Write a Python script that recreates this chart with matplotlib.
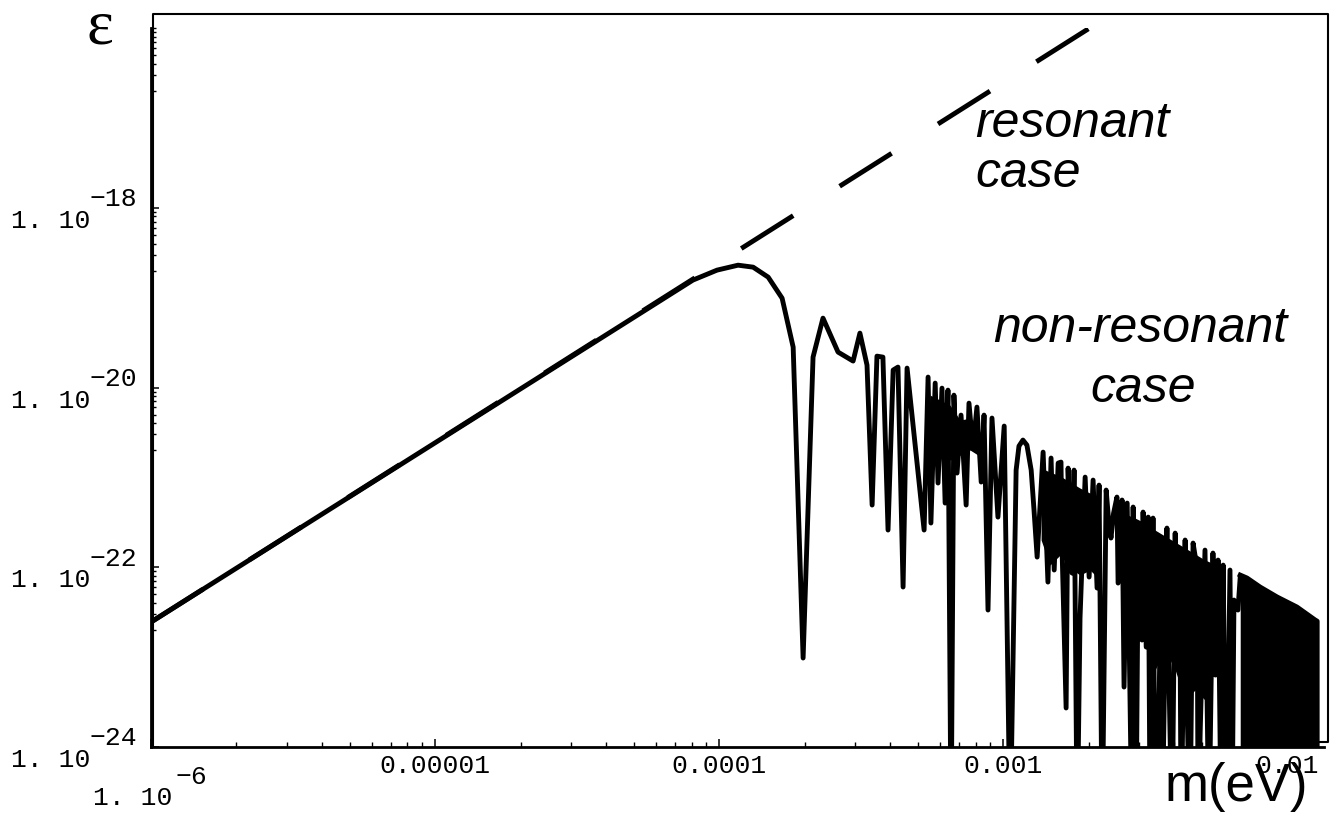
import numpy as np
import matplotlib
matplotlib.use("Agg")
import matplotlib.pyplot as plt
from matplotlib.ticker import FixedLocator, NullFormatter, LogLocator
from matplotlib.lines import Line2D

# ---------------- data (log10 values) ----------------
resonant_log10_m = [-6.0, -2.5]
resonant_log10_eps = [-22.61, -15.61]

nonres_log10_m = [
    -6.000, -4.092, -4.007, -3.933, -3.880, -3.827, -3.778, -3.739, -3.704, -3.669,
    -3.634, -3.581, -3.528, -3.504, -3.479, -3.461, -3.444, -3.423, -3.405, -3.387,
    -3.370, -3.352, -3.338, -3.278, -3.264, -3.254, -3.239, -3.229, -3.215, -3.204,
    -3.194, -3.183, -3.173, -3.162, -3.148, -3.130, -3.120, -3.106, -3.092, -3.077,
    -3.067, -3.053, -3.039, -3.018, -2.996, -2.975, -2.954, -2.944, -2.930, -2.916,
    -2.901, -2.891, -2.880, -2.859, -2.842, -2.831, -2.820, -2.806, -2.796, -2.792,
    -2.778, -2.771, -2.757, -2.750, -2.739, -2.729, -2.711, -2.697, -2.683, -2.669,
    -2.662, -2.651, -2.637, -2.629, -2.620, -2.611, -2.599, -2.595, -2.581, -2.574,
    -2.563, -2.546, -2.542, -2.532, -2.525, -2.511, -2.507, -2.496, -2.489, -2.482,
    -2.472, -2.468, -2.458, -2.444, -2.440, -2.423, -2.419, -2.405, -2.394, -2.387,
    -2.377, -2.373, -2.359, -2.352, -2.342, -2.331, -2.317, -2.313, -2.306, -2.289,
    -2.275, -2.261, -2.252, -2.243, -2.232, -2.225, -2.215, -2.201, -2.194, -2.187,
    -2.173, -2.165,
]
nonres_log10_eps = [
    -22.610, -18.805, -18.694, -18.639, -18.661, -18.772, -19.006, -19.551, -23.010, -19.662,
    -19.228, -19.606, -19.706, -19.395, -19.751, -21.308, -19.651, -19.662, -21.586, -19.806,
    -19.773, -22.220, -19.784, -21.586, -19.884, -21.508, -19.951, -21.063, -20.007, -21.286,
    -20.029, -25.000, -20.085, -20.952, -20.307, -21.308, -20.174, -20.674, -20.218, -21.052,
    -20.307, -22.476, -20.340, -21.442, -20.429, -25.000, -20.919, -20.652, -20.585, -20.641,
    -20.919, -21.364, -21.887, -20.719, -22.165, -20.785, -22.031, -20.841, -20.830, -21.831,
    -23.566, -20.897, -22.065, -20.919, -25.000, -22.565, -20.997, -22.109, -21.030, -22.231,
    -21.086, -25.000, -21.141, -21.450, -21.675, -21.400, -21.219, -22.176, -21.252, -23.333,
    -21.286, -25.000, -21.330, -25.000, -22.176, -22.810, -21.386, -22.888, -21.442, -25.000,
    -21.453, -23.333, -25.000, -22.109, -25.000, -21.564, -22.732, -25.000, -21.620, -23.032,
    -22.587, -25.000, -21.697, -23.555, -25.000, -21.731, -22.009, -25.000, -23.844, -21.809,
    -25.000, -21.842, -23.200, -21.920, -25.000, -21.976, -25.000, -22.031, -25.000, -22.365,
    -22.476, -22.109,
]

# bands where the oscillation is so fast that the trace prints as solid black
band0_log10_m = [-3.257, -3.222, -3.187, -3.151, -3.116, -3.088]
band0_upper = [-20.085, -20.140, -20.196, -20.363, -20.340, -20.418]
band0_lower = [-20.641, -20.752, -20.808, -20.752, -20.696, -20.752]

band1_log10_m = [-2.866, -2.835, -2.799, -2.764, -2.729, -2.694, -2.658]
band1_upper = [-20.897, -20.941, -20.986, -21.052, -21.119, -21.175, -21.230]
band1_lower = [-21.697, -21.976, -21.864, -22.009, -22.087, -22.031, -22.142]

band2_log10_m = [-2.599, -2.570, -2.535, -2.500, -2.465, -2.430, -2.394, -2.359, -2.324,
                 -2.289, -2.264]
band2_upper = [-21.364, -21.408, -21.453, -21.508, -21.586, -21.653, -21.720, -21.786,
               -21.853, -21.920, -21.953]
band2_lower = [-22.031, -22.198, -22.254, -22.810, -23.143, -22.921, -23.143, -23.477,
               -23.366, -23.477, -23.255]

# densest tail: upper envelope of the solid black block reaching the axis
dense_log10_m = [-2.165, -2.141, -2.095, -2.035, -1.965, -1.901, -1.894]
dense_log10_eps = [-22.087, -22.120, -22.220, -22.331, -22.443, -22.587, -22.600]

y_tick_exponents = [-18, -20, -22, -24]
x_tick_values = [1e-5, 1e-4, 1e-3, 1e-2]
x_tick_labels = ["0.00001", "0.0001", "0.001", "0.01"]

# ---------------- figure ----------------
W, H = 1338, 816
fig = plt.figure(figsize=(W / 100, H / 100), dpi=100)
ax = fig.add_axes([151 / W, (H - 747) / H, (1324 - 151) / W, (747 - 28) / H])
ax.set_xscale("log")
ax.set_yscale("log")
ax.set_xlim(1e-6, 10 ** -1.870)
ax.set_ylim(1e-24, 1e-16)

lw = 3.5
p10 = lambda a: 10.0 ** np.asarray(a)

ax.plot(p10(resonant_log10_m), p10(resonant_log10_eps), color="k", lw=lw,
        ls=(0, (12.65, 11.3)), dash_capstyle="butt")
ax.plot(p10(nonres_log10_m), p10(nonres_log10_eps), color="k", lw=lw,
        solid_joinstyle="round")

for bm, bu, bl in ((band0_log10_m, band0_upper, band0_lower),
                   (band1_log10_m, band1_upper, band1_lower),
                   (band2_log10_m, band2_upper, band2_lower)):
    ax.fill_between(p10(bm), p10(bu), p10(bl), color="k", lw=0)

m_d = p10(dense_log10_m)
e_d = p10(dense_log10_eps)
ax.fill_between(m_d, e_d, 1e-25, color="k", lw=0)
ax.plot(np.append(m_d, m_d[-1]), np.append(e_d, 1e-25), color="k", lw=lw)

# spines / ticks
for s in ("top", "right"):
    ax.spines[s].set_visible(False)
for s in ("left", "bottom"):
    ax.spines[s].set_linewidth(2.0)
ax.xaxis.set_major_locator(FixedLocator([1e-6] + x_tick_values))
ax.xaxis.set_minor_locator(LogLocator(base=10, subs=np.arange(2, 10)))
ax.yaxis.set_major_locator(FixedLocator([10.0 ** e for e in y_tick_exponents]))
ymin = [k * 10.0 ** (M - 1) for M in (-16, -18, -20, -22) for k in range(2, 10)] + [1e-16]
ax.yaxis.set_minor_locator(FixedLocator(ymin))
for a in (ax.xaxis, ax.yaxis):
    a.set_major_formatter(NullFormatter())
    a.set_minor_formatter(NullFormatter())
ax.tick_params(which="major", direction="in", length=6, width=1.1)
ax.tick_params(which="minor", direction="in", length=3.6, width=1.0)

mono = ["Liberation Mono", "DejaVu Sans Mono"]
fs = 19
for e in y_tick_exponents:
    ax.annotate("1. 10", xy=(0, 10.0 ** e), xycoords=("axes fraction", "data"),
                xytext=(-44, -14.4), textcoords="offset points", ha="right",
                va="baseline", family=mono, fontsize=fs)
    ax.annotate("\u2212%d" % (-e), xy=(0, 10.0 ** e), xycoords=("axes fraction", "data"),
                xytext=(-44, 1.2), textcoords="offset points", ha="left",
                va="baseline", family=mono, fontsize=fs)
for v, t in zip(x_tick_values, x_tick_labels):
    ax.annotate(t, xy=(v, 0), xycoords=("data", "axes fraction"),
                xytext=(0, -18.7), textcoords="offset points", ha="center",
                va="baseline", family=mono, fontsize=fs)
ax.annotate("1. 10", xy=(1e-6, 0), xycoords=("data", "axes fraction"),
            xytext=(15.1, -41.8), textcoords="offset points", ha="right",
            va="baseline", family=mono, fontsize=fs)
ax.annotate("\u22126", xy=(1e-6, 0), xycoords=("data", "axes fraction"),
            xytext=(17.3, -26.6), textcoords="offset points", ha="left",
            va="baseline", family=mono, fontsize=fs)

# outer frame
fx = np.array([153, 153, 1328, 1328, 1310]) / W
fy = 1 - np.array([747, 14, 14, 742, 742]) / H
fig.add_artist(Line2D(fx, fy, color="k", lw=1.5, transform=fig.transFigure))


def px(x, y):
    return x / W, 1 - y / H


sans = ["Liberation Sans", "DejaVu Sans"]
fig.text(*px(100, 43), "\u03b5", family=["Liberation Serif", "DejaVu Serif"],
         fontsize=46, ha="center", va="baseline")
fig.text(*px(975, 137), "resonant", family=sans, style="italic", fontsize=36,
         ha="left", va="baseline")
fig.text(*px(975, 187), "case", family=sans, style="italic", fontsize=36,
         ha="left", va="baseline")
fig.text(*px(1140, 342), "non-resonant", family=sans, style="italic", fontsize=36,
         ha="center", va="baseline")
fig.text(*px(1143, 402), "case", family=sans, style="italic", fontsize=36,
         ha="center", va="baseline")
fig.text(*px(1165, 801), "m(eV)", family=sans, fontsize=38, ha="left", va="baseline")

fig.savefig("out.png", dpi=100)
